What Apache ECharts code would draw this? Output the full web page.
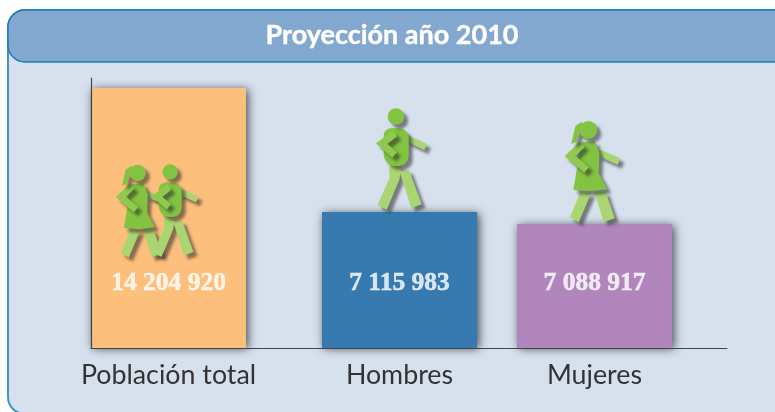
<!DOCTYPE html>
<html><head><meta charset="utf-8">
<style>html,body{margin:0;padding:0;background:#fff}#c{width:775px;height:412px}</style>
<script src="https://cdn.jsdelivr.net/npm/echarts@6/dist/echarts.min.js"></script>
</head><body><div id="c"></div>
<script>
const titleText = 'Proyección año 2010';
const categories = ['Población total', 'Hombres', 'Mujeres'];
// Printed numbers
const valueLabels = ['14 204 920', '7 115 983', '7 088 917'];
// Bar heights as drawn: the reference's bars are not proportional to the printed numbers
const barValues = [14204920, 7430000, 6775000];

const barColors = ['#fdbf7c', '#377ab0', '#b086bd'];
const slots = [77.5, 308.5, 503.5];   // unevenly spaced category positions on the x axis
const labelLevel = 3550000;
const pairFeetLevel = 4860000;

const DARK = '#82c341', LIGHT = '#a9d672', ARM = '#8fca4e';
const shadow = {shadowColor:'rgba(40,40,40,.55)', shadowBlur:3, shadowOffsetX:4, shadowOffsetY:4};
function poly(pts, fill){return {type:'polygon', shape:{points:pts}, style:Object.assign({fill}, shadow)};}
function arm(pts, w, c){return {type:'polyline', shape:{points:pts}, style:Object.assign({stroke:c, fill:null, lineWidth:w, lineJoin:'miter', lineCap:'butt'}, shadow)};}

// Icon shapes, drawn at 3x and with the feet at local (0,0)
function man(){
  const o=[171,351], g=p=>p.map(q=>[q[0]-o[0],q[1]-o[1]]);
  return [
    arm(g([[200,130],[257,156]]),20,LIGHT),
    poly(g([[148,212],[184,212],[178,254],[140,344],[113,330],[148,250]]),LIGHT),
    poly(g([[178,228],[207,225],[245,328],[214,339]]),LIGHT),
    {type:'rect', shape:{x:131-o[0],y:100-o[1],width:75,height:113,r:[22,28,30,36]}, style:Object.assign({fill:DARK},shadow)},
    arm(g([[165,115],[125,146],[164,180]]),22,ARM),
    {type:'circle', shape:{cx:168-o[0],cy:65-o[1],r:25}, style:Object.assign({fill:DARK},shadow)}
  ];
}
function woman(){
  const o=[156,342], g=p=>p.map(q=>[q[0]-o[0],q[1]-o[1]]);
  return [
    arm(g([[176,128],[237,155]]),20,LIGHT),
    poly(g([[120,248],[154,248],[116,337],[90,322]]),LIGHT),
    poly(g([[163,245],[197,245],[224,325],[191,336]]),LIGHT),
    poly(g([[126,96],[165,94],[178,130],[176,190],[202,238],[150,244],[100,240],[110,180],[116,130]]),DARK),
    arm(g([[127,103],[90,138],[140,180]]),22,ARM),
    poly(g([[125,36],[106,48],[94,102],[112,94],[116,72],[132,70]]),DARK),
    {type:'circle', shape:{cx:145-o[0],cy:60-o[1],r:27}, style:Object.assign({fill:DARK},shadow)}
  ];
}
// kind, x on axis, level on axis, scale
const figures = [
  ['man', 306, barValues[1], 1/3],
  ['woman', 501, barValues[2], 1/3],
  ['woman', 50, pairFeetLevel, 0.305],
  ['man', 80, pairFeetLevel, 0.305]
];

const chart = echarts.init(document.getElementById('c'), null, {renderer:'canvas', width:775, height:412});
chart.setOption({
  animation:false,
  backgroundColor:'#ffffff',
  title:{text:titleText, left:387, top:17, textAlign:'center',
    textStyle:{color:'#fff', fontFamily:'Lato', fontWeight:'bold', fontSize:27, textBorderColor:'#fff', textBorderWidth:0.4}},
  graphic:{elements:[
    {type:'rect', z:-2, shape:{x:8,y:10,width:790,height:404,r:17}, style:{fill:'#d7e1ee', stroke:'#3f97c4', lineWidth:2}},
    {type:'rect', z:-1, shape:{x:8,y:10,width:790,height:52,r:17}, style:{fill:'#82a8cf', stroke:'#1c7db8', lineWidth:1.5}}
  ]},
  grid:{left:91, top:78, width:636, height:270},
  xAxis:{type:'value', min:0, max:636, splitLine:{show:false}, z:6,
    axisLine:{show:true, onZero:false, lineStyle:{color:'#444', width:1}}, axisTick:{show:false},
    axisLabel:{customValues:slots, formatter:v=>categories[slots.indexOf(v)], margin:14,
      color:'#333', fontFamily:'Lato', fontSize:26.8, hideOverlap:false}},
  yAxis:{type:'value', min:0, max:14750000, splitLine:{show:false}, z:6,
    axisLine:{show:true, onZero:false, lineStyle:{color:'#444', width:1.2}}, axisTick:{show:false}, axisLabel:{show:false}},
  series:[
    {type:'bar', barWidth:155, z:2,
     data:barValues.map((v,i)=>({value:[slots[i],v], itemStyle:{color:barColors[i],
       shadowColor:'rgba(30,30,40,.8)', shadowBlur:9, shadowOffsetX:2, shadowOffsetY:1}}))},
    {type:'custom', z:3, coordinateSystem:'cartesian2d', silent:true, clip:false,
     encode:{x:0,y:1},
     data:figures.map(f=>[f[1],f[2]]),
     renderItem:(p,api)=>{
       const f=figures[p.dataIndex], c=api.coord([api.value(0),api.value(1)]);
       return {type:'group', x:c[0], y:c[1], scaleX:f[3], scaleY:f[3],
         children:f[0]==='man'?man():woman()};
     }},
    {type:'scatter', z:4, symbolSize:0, silent:true,
     data:slots.map((x,i)=>({value:[x,labelLevel], label:{show:true, position:'inside', formatter:valueLabels[i],
       color:'#fff', fontFamily:'Liberation Serif', fontWeight:'bold', fontSize:25.5, textBorderColor:'#fff', textBorderWidth:0.5}}))}
  ]
});
</script></body></html>
